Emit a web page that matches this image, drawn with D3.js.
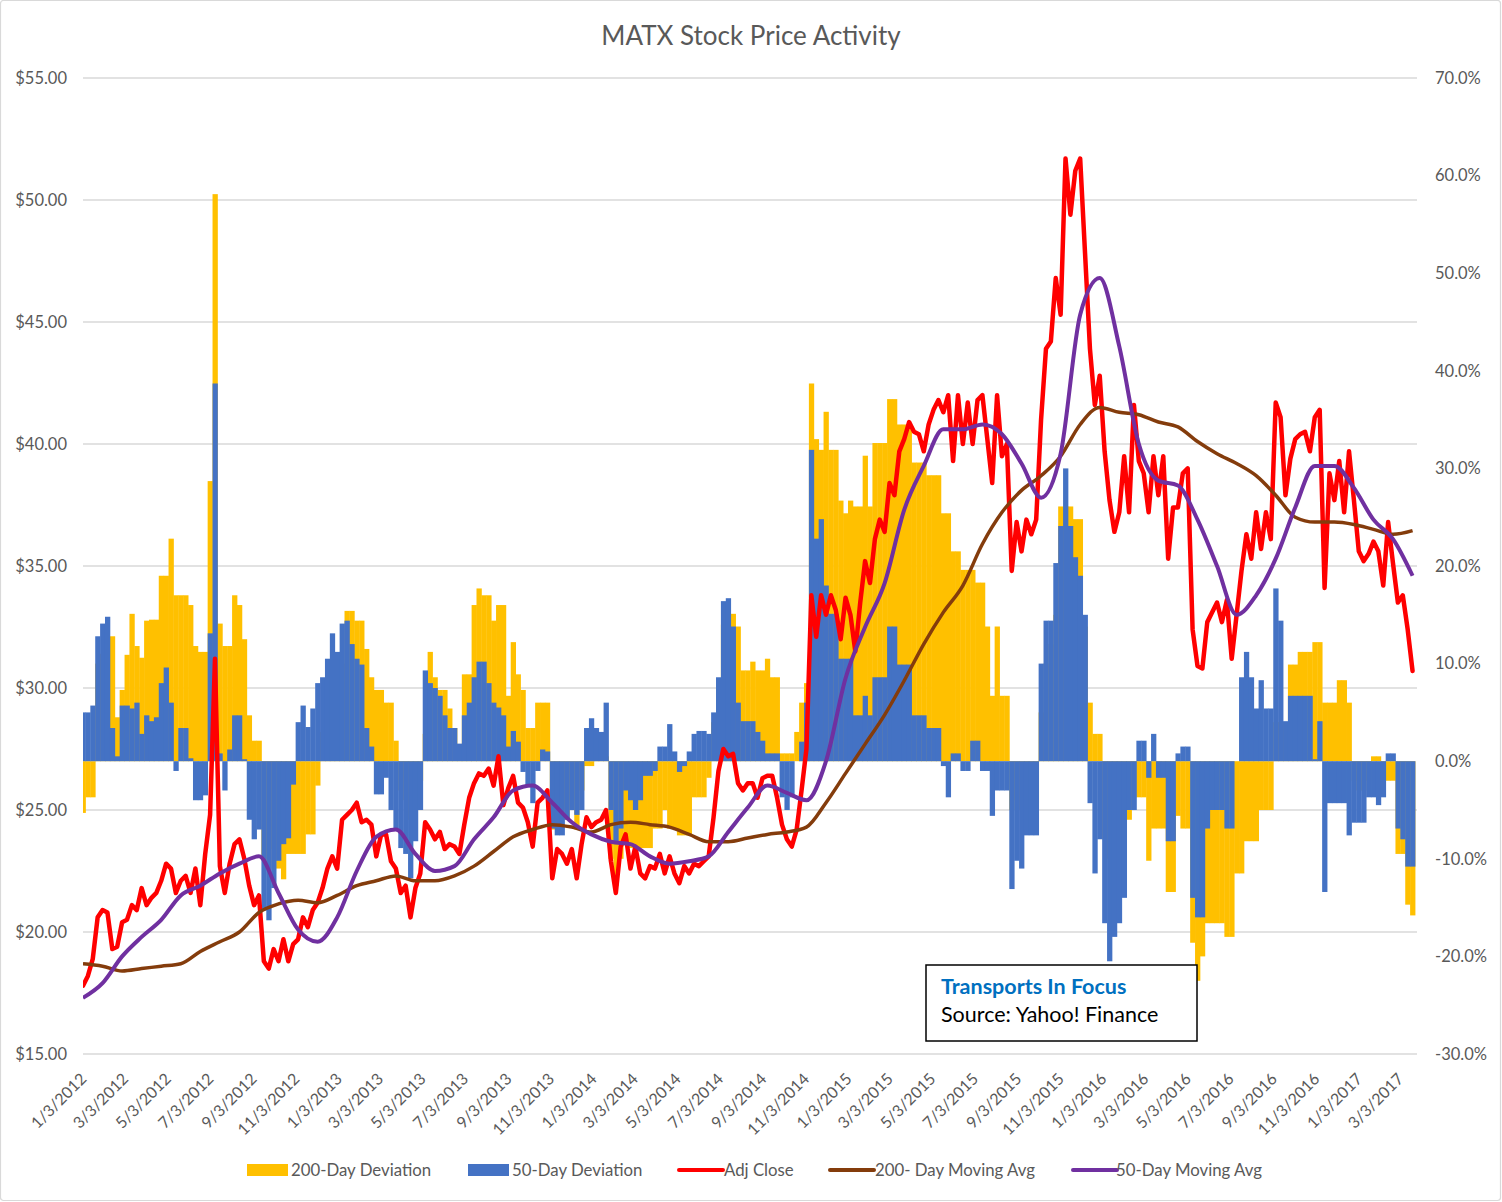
<!DOCTYPE html>
<html><head><meta charset="utf-8">
<script src="https://cdn.jsdelivr.net/npm/d3@7"></script>
<style>
html,body{margin:0;padding:0;background:#fff;}
svg{display:block;}
text{font-family:Lato,"Open Sans",sans-serif;}
</style></head><body>
<svg id="chart" width="1502" height="1202"></svg>
<script>
// ---- DATA (weekly samples, first sample 1/3/2012) ----
const firstDate = "1/3/2012";
const sampleStepDays = 7;      // one sample per week for close and deviations
const maStepDays = 28;         // one sample every 4 weeks for moving averages

const adjClose = [
17.8,18.2,18.9,20.6,20.9,20.8,19.3,19.4,20.4,20.5,
21.1,20.9,21.8,21.1,21.4,21.6,22.1,22.8,22.6,21.6,
22.1,22.3,21.6,22.6,21.1,23.2,24.8,31.2,22.7,21.6,
22.8,23.6,23.8,23.0,21.9,21.1,21.5,18.8,18.5,19.3,
18.8,19.7,18.8,19.5,19.7,20.6,20.2,20.9,21.2,21.8,
22.6,23.1,22.6,24.6,24.8,25.0,25.3,24.5,24.6,24.4,
23.1,24.0,24.0,22.9,22.6,21.6,21.9,20.6,21.8,22.4,
24.5,24.2,23.8,24.1,23.4,23.6,23.5,23.2,24.4,25.5,
26.1,26.5,26.4,26.7,26.0,27.2,25.2,25.9,26.4,25.3,
25.1,24.5,23.5,25.3,25.5,25.8,22.2,23.4,23.2,22.8,
23.4,22.2,23.6,24.7,24.3,24.5,24.6,25.0,22.9,21.6,
23.5,24.0,22.6,23.5,22.4,22.2,22.7,22.6,23.2,22.4,
23.1,22.4,22.0,22.7,22.4,22.8,22.7,22.9,23.1,24.7,
26.6,27.5,27.2,27.3,26.1,25.8,26.1,26.1,25.5,26.3,
26.4,26.4,25.5,24.4,23.8,23.5,24.2,25.8,27.5,33.8,
32.1,33.8,33.0,33.8,33.2,32.0,33.7,33.0,31.5,33.5,
35.2,34.3,36.1,36.9,36.4,38.4,37.9,39.7,40.2,40.9,
40.5,40.4,39.7,40.8,41.4,41.8,41.3,42.0,39.3,42.0,
40.0,41.7,40.0,41.8,42.0,40.2,38.4,42.0,39.5,40.0,
34.8,36.8,35.6,36.9,36.3,36.9,41.0,43.9,44.2,46.8,
45.3,51.7,49.4,51.2,51.7,47.8,43.9,41.6,42.8,39.7,
37.7,36.4,37.2,39.5,37.2,41.6,39.3,38.8,37.2,39.5,
37.9,39.5,35.3,37.4,37.4,38.8,39.0,32.4,30.9,30.8,
32.7,33.1,33.5,32.7,33.6,31.2,33.0,34.8,36.3,35.3,
37.2,35.7,37.2,36.1,41.7,41.1,37.9,39.4,40.2,40.4,
40.5,39.7,41.1,41.4,34.1,38.8,37.7,39.3,37.2,39.7,
37.7,35.6,35.2,35.5,36.0,35.6,34.2,36.8,35.1,33.5,
33.8,32.4,30.7];

const dev50 = [
5.0,5.0,5.7,12.8,14.1,14.8,3.4,0.5,5.7,5.7,
5.4,6.0,2.8,4.7,4.1,4.5,8.0,9.6,6.0,-1.0,
3.4,3.4,0.3,-4.0,-4.0,-3.5,13.1,38.7,0.8,-3.0,
1.2,4.7,4.7,0.2,-6.0,-8.0,-7.0,-15.3,-16.3,-13.0,
-10.2,-8.5,-7.9,-2.4,4.0,5.7,3.5,5.4,8.0,8.6,
10.5,13.1,11.2,14.1,14.4,12.0,10.5,9.9,3.4,1.5,
-3.4,-3.4,-1.7,-5.0,-6.9,-8.9,-9.5,-12.0,-8.2,-5.0,
9.3,8.0,7.5,6.7,4.7,3.4,3.4,1.8,4.7,6.0,
8.6,10.2,10.2,8.0,6.0,5.5,4.7,1.5,3.1,2.0,
-1.1,-2.5,-4.3,-1.0,1.2,1.0,-6.9,-7.6,-7.6,-6.0,
-5.0,-5.5,-5.0,3.4,4.4,3.4,3.0,6.0,-5.0,-8.2,
-6.9,-3.0,-4.0,-5.0,-4.0,-1.5,-1.5,-1.0,1.5,1.5,
3.8,1.0,-1.1,-0.5,1.0,2.8,3.1,3.1,2.8,5.0,
8.6,16.4,16.7,13.8,6.0,4.1,4.1,4.1,3.0,2.1,
0.8,0.8,0.8,-3.7,-5.0,-3.7,0.0,2.0,6.0,31.9,
22.8,24.8,18.0,15.1,15.1,10.5,10.5,10.5,4.7,4.7,
6.7,4.7,8.6,8.6,8.6,13.8,13.8,9.9,9.9,9.9,
4.7,4.7,4.7,3.4,3.4,3.4,-0.5,-3.7,0.8,0.8,
-1.0,-1.0,2.1,2.1,-1.0,-1.0,-5.6,-3.0,-3.0,-3.0,
-13.1,-10.2,-11.0,-7.6,-7.6,-7.6,10.0,14.4,14.4,20.3,
24.1,30.0,24.1,20.9,19.0,15.0,-4.3,-11.5,-8.0,-16.6,
-20.5,-18.0,-16.6,-14.0,-5.0,-5.0,2.1,2.1,-1.7,2.8,
-1.7,-1.7,-8.2,-8.2,0.8,1.5,1.5,-14.0,-16.0,-16.0,
-6.9,-5.0,-5.0,-5.0,-6.9,-6.9,0.0,8.6,11.2,8.6,
5.4,8.3,5.4,5.4,17.7,14.4,4.1,6.7,6.7,6.7,
6.7,6.7,0.2,4.1,-13.4,-4.3,-4.3,-4.3,-4.3,-7.6,
-6.3,-6.3,-6.3,-3.7,-3.7,-4.5,-3.7,0.8,0.8,-6.9,
-8.0,-10.8,-10.8];

const dev200 = [
-5.3,-3.7,-3.7,10.0,11.0,12.0,12.8,4.5,7.3,10.9,
15.1,11.8,10.6,14.4,14.5,14.5,19.0,19.0,22.8,17.0,
17.0,17.0,16.0,11.8,11.2,11.2,28.7,58.1,14.1,11.8,
11.8,17.0,16.0,12.5,4.7,2.1,2.1,-10.0,-11.0,-9.0,
-11.0,-12.1,-9.5,-9.5,-9.5,-9.5,-7.5,-7.5,-2.5,3.0,
5.0,6.0,8.0,10.0,15.4,15.4,14.4,14.4,11.5,8.6,
7.3,7.3,6.0,6.0,2.1,-3.0,-4.0,-6.0,-4.0,-2.0,
2.8,11.2,8.6,7.3,7.3,5.4,3.4,1.2,8.9,8.9,
16.0,17.7,17.0,17.0,14.4,16.0,16.0,6.7,12.2,8.9,
7.3,3.4,3.4,6.0,6.0,6.0,-7.0,-4.0,-5.0,-6.0,
-4.0,-7.0,-3.0,-0.5,-0.5,0.5,0.5,0.5,-10.0,-12.8,
-10.0,-8.0,-8.9,-8.9,-8.9,-8.9,-8.9,-6.9,-6.9,-5.0,
-6.9,-6.9,-7.6,-7.6,-7.6,-3.7,-3.7,-3.7,-1.7,4.0,
8.0,14.0,15.1,15.1,13.8,9.3,9.3,10.2,9.3,9.3,
10.5,8.6,8.6,0.8,0.8,0.8,3.0,6.0,8.0,38.7,
33.0,31.9,35.8,31.9,31.9,26.7,25.4,26.7,26.1,26.1,
31.3,26.1,32.6,32.6,32.6,37.1,37.1,34.5,34.5,34.5,
30.6,30.6,30.6,29.3,29.3,29.3,25.4,25.4,21.5,21.5,
19.6,19.6,19.6,18.3,18.3,13.8,6.7,13.8,6.7,6.7,
-5.0,-4.0,-5.0,-4.0,-4.3,-4.3,5.0,10.0,12.0,15.0,
26.1,26.1,26.1,24.8,24.8,13.8,6.0,2.8,2.8,-8.0,
-10.0,-10.0,-8.0,-6.0,-6.0,-3.7,-3.7,-3.7,-10.2,-6.9,
-6.9,-6.9,-13.4,-13.4,-5.6,-6.9,-6.9,-18.6,-22.5,-20.0,
-16.6,-16.6,-16.6,-16.6,-18.0,-18.0,-11.5,-11.5,-8.2,-8.2,
-8.2,-5.0,-5.0,-5.0,4.0,4.0,4.0,9.9,9.9,11.2,
11.2,11.2,12.2,12.2,6.0,6.0,6.0,8.3,8.3,6.0,
-2.0,-3.0,-3.0,-2.0,0.5,0.5,-2.0,-2.0,-2.0,-9.5,
-9.5,-14.7,-15.8];

const ma200 = [
18.7,18.6,18.4,18.5,18.6,18.7,19.2,19.6,20.0,20.8,
21.15,21.3,21.2,21.5,21.9,22.1,22.3,22.1,22.1,22.3,
22.7,23.3,23.9,24.2,24.4,24.3,24.1,24.4,24.5,24.4,
24.3,24.0,23.7,23.7,23.85,24.0,24.1,24.3,25.3,26.5,
27.7,28.9,30.3,31.8,33.1,34.2,35.9,37.2,38.1,38.7,
39.5,40.8,41.5,41.3,41.2,40.9,40.7,40.1,39.6,39.2,
38.7,37.9,37.0,36.8,36.8,36.7,36.5,36.3,36.45];

const ma50 = [
17.3,17.9,19.0,19.8,20.5,21.5,21.9,22.4,22.8,23.1,
21.6,20.1,19.6,20.6,22.5,23.9,24.2,23.2,22.5,22.7,
23.8,24.7,25.8,26.0,25.3,24.5,24.0,23.7,23.6,23.1,
22.8,22.9,23.1,24.1,25.1,26.0,25.7,25.4,27.0,30.4,
32.5,34.3,37.3,39.1,40.6,40.6,40.8,40.4,39.2,37.8,
39.6,45.3,46.8,44.0,40.0,38.5,38.3,36.9,35.0,33.0,
33.8,35.3,37.4,39.1,39.1,38.2,36.9,36.1,34.6];

const xTickLabels = ["1/3/2012","3/3/2012","5/3/2012","7/3/2012","9/3/2012","11/3/2012",
"1/3/2013","3/3/2013","5/3/2013","7/3/2013","9/3/2013","11/3/2013",
"1/3/2014","3/3/2014","5/3/2014","7/3/2014","9/3/2014","11/3/2014",
"1/3/2015","3/3/2015","5/3/2015","7/3/2015","9/3/2015","11/3/2015",
"1/3/2016","3/3/2016","5/3/2016","7/3/2016","9/3/2016","11/3/2016",
"1/3/2017","3/3/2017"];
const priceTicks = [15,20,25,30,35,40,45,50,55];
const pctTicks = [-30,-20,-10,0,10,20,30,40,50,60,70];
const seriesNames = ["200-Day Deviation","50-Day Deviation","Adj Close","200- Day Moving Avg","50-Day Moving Avg"];
const titleText = "MATX Stock Price Activity";
const noteTitle = "Transports In Focus";
const noteSource = "Source: Yahoo! Finance";

// ---- STYLE / LAYOUT ----
const C = {yellow:"#FFC000", blue:"#4472C4", red:"#FF0000", brown:"#843C0C", purple:"#7030A0",
           text:"#595959", grid:"#D9D9D9"};
const P = {left:83, right:1417, top:78, bottom:1054};

const parse = d3.utcParse("%m/%d/%Y");
const t0 = parse(firstDate);
const dayMs = 864e5;
const weekDates = adjClose.map((_, i) => new Date(+t0 + i*sampleStepDays*dayMs));
const maDates = ma200.map((_, i) => new Date(+t0 + i*maStepDays*dayMs));
const tickDates = xTickLabels.map(parse);

const x = d3.scaleUtc().domain([t0, tickDates[tickDates.length-1]]).range([P.left, 1400]);
const yL = d3.scaleLinear().domain([15,55]).range([P.bottom, P.top]);
const yR = d3.scaleLinear().domain([-30,70]).range([P.bottom, P.top]);

const svg = d3.select("#chart");
svg.append("rect").attr("x",0.5).attr("y",0.5).attr("width",1500).attr("height",1200)
  .attr("rx",3).attr("fill","#fff").attr("stroke","#D9D9D9").attr("stroke-width",1.2);

svg.append("defs").append("clipPath").attr("id","plotclip")
  .append("rect").attr("x",P.left).attr("y",P.top-20).attr("width",P.right-P.left).attr("height",P.bottom-P.top+40);

// title
svg.append("text").attr("x",751).attr("y",45).attr("text-anchor","middle")
  .attr("font-size",26).attr("fill",C.text).text(titleText);

// gridlines
svg.append("g").selectAll("line").data(priceTicks).join("line")
  .attr("x1",P.left).attr("x2",P.right).attr("y1",d=>yL(d)).attr("y2",d=>yL(d))
  .attr("stroke",C.grid).attr("stroke-width",1.3);

// left axis
const axL = svg.append("g").attr("transform",`translate(${P.left},0)`)
  .call(d3.axisLeft(yL).tickValues(priceTicks).tickSize(0).tickPadding(16).tickFormat(d=>"$"+d.toFixed(2)));
axL.select(".domain").remove();
axL.selectAll("text").attr("font-size",16.5).attr("fill",C.text).attr("font-family","Lato");

// right axis
const axR = svg.append("g").attr("transform",`translate(${P.right},0)`)
  .call(d3.axisRight(yR).tickValues(pctTicks).tickSize(0).tickPadding(18).tickFormat(d=>d.toFixed(1)+"%"));
axR.select(".domain").remove();
axR.selectAll("text").attr("font-size",16.5).attr("fill",C.text).attr("font-family","Lato");

// x axis labels
const axX = svg.append("g").attr("transform",`translate(0,${P.bottom})`)
  .call(d3.axisBottom(x).tickValues(tickDates).tickSize(0).tickFormat((d,i)=>xTickLabels[i]));
axX.select(".domain").remove();
axX.selectAll(".tick text").attr("font-size",16).attr("fill",C.text).attr("font-family","Lato")
  .attr("text-anchor","end").attr("y",0).attr("dy","0.35em")
  .attr("transform","translate(0,22) rotate(-45)");

const plot = svg.append("g").attr("clip-path","url(#plotclip)");

function barRects(g, vals, color){
  g.selectAll("rect").data(vals).join("rect")
    .attr("x",(d,i)=>x(new Date(+weekDates[i]-3.5*dayMs)))
    .attr("width",(d,i)=>x(new Date(+weekDates[i]+3.5*dayMs))-x(new Date(+weekDates[i]-3.5*dayMs))+0.4)
    .attr("y",d=>Math.min(yR(d),yR(0)))
    .attr("height",d=>Math.abs(yR(d)-yR(0)))
    .attr("fill",color);
}
barRects(plot.append("g"), dev200, C.yellow);
barRects(plot.append("g"), dev50, C.blue);

const lineClose = d3.line().x((d,i)=>x(weekDates[i])).y(d=>yL(d));
const lineMA = d3.line().x((d,i)=>x(maDates[i])).y(d=>yL(d)).curve(d3.curveMonotoneX);

plot.append("path").datum(adjClose).attr("d",lineClose).attr("fill","none")
  .attr("stroke",C.red).attr("stroke-width",4.5).attr("stroke-linejoin","round").attr("stroke-linecap","round");
plot.append("path").datum(ma200).attr("d",lineMA).attr("fill","none")
  .attr("stroke",C.brown).attr("stroke-width",3.5).attr("stroke-linejoin","round");
plot.append("path").datum(ma50).attr("d",lineMA).attr("fill","none")
  .attr("stroke",C.purple).attr("stroke-width",4).attr("stroke-linejoin","round");

// annotation box
const note = svg.append("g");
note.append("rect").attr("x",926).attr("y",965).attr("width",271).attr("height",76)
  .attr("fill","#fff").attr("stroke","#000").attr("stroke-width",1.5);
note.append("text").attr("x",941).attr("y",994).attr("font-size",21.5).attr("font-weight","bold")
  .attr("fill","#0070C0").text(noteTitle);
note.append("text").attr("x",941).attr("y",1022).attr("font-size",21.5).attr("fill","#000").text(noteSource);

// legend
const legendItems = [
  {name:seriesNames[0], type:"rect", color:C.yellow, x:247, tx:291},
  {name:seriesNames[1], type:"rect", color:C.blue, x:468, tx:512},
  {name:seriesNames[2], type:"line", color:C.red, x:679, tx:724},
  {name:seriesNames[3], type:"line", color:C.brown, x:830, tx:875},
  {name:seriesNames[4], type:"line", color:C.purple, x:1073, tx:1116}
];
const lg = svg.append("g");
legendItems.forEach(it=>{
  if(it.type==="rect"){
    lg.append("rect").attr("x",it.x).attr("y",1164).attr("width",41).attr("height",12).attr("fill",it.color);
  } else {
    lg.append("line").attr("x1",it.x).attr("x2",it.x+44).attr("y1",1170).attr("y2",1170)
      .attr("stroke",it.color).attr("stroke-width",4).attr("stroke-linecap","round");
  }
  lg.append("text").attr("x",it.tx).attr("y",1176).attr("font-size",16.8).attr("fill",C.text).text(it.name);
});
</script>
</body></html>
